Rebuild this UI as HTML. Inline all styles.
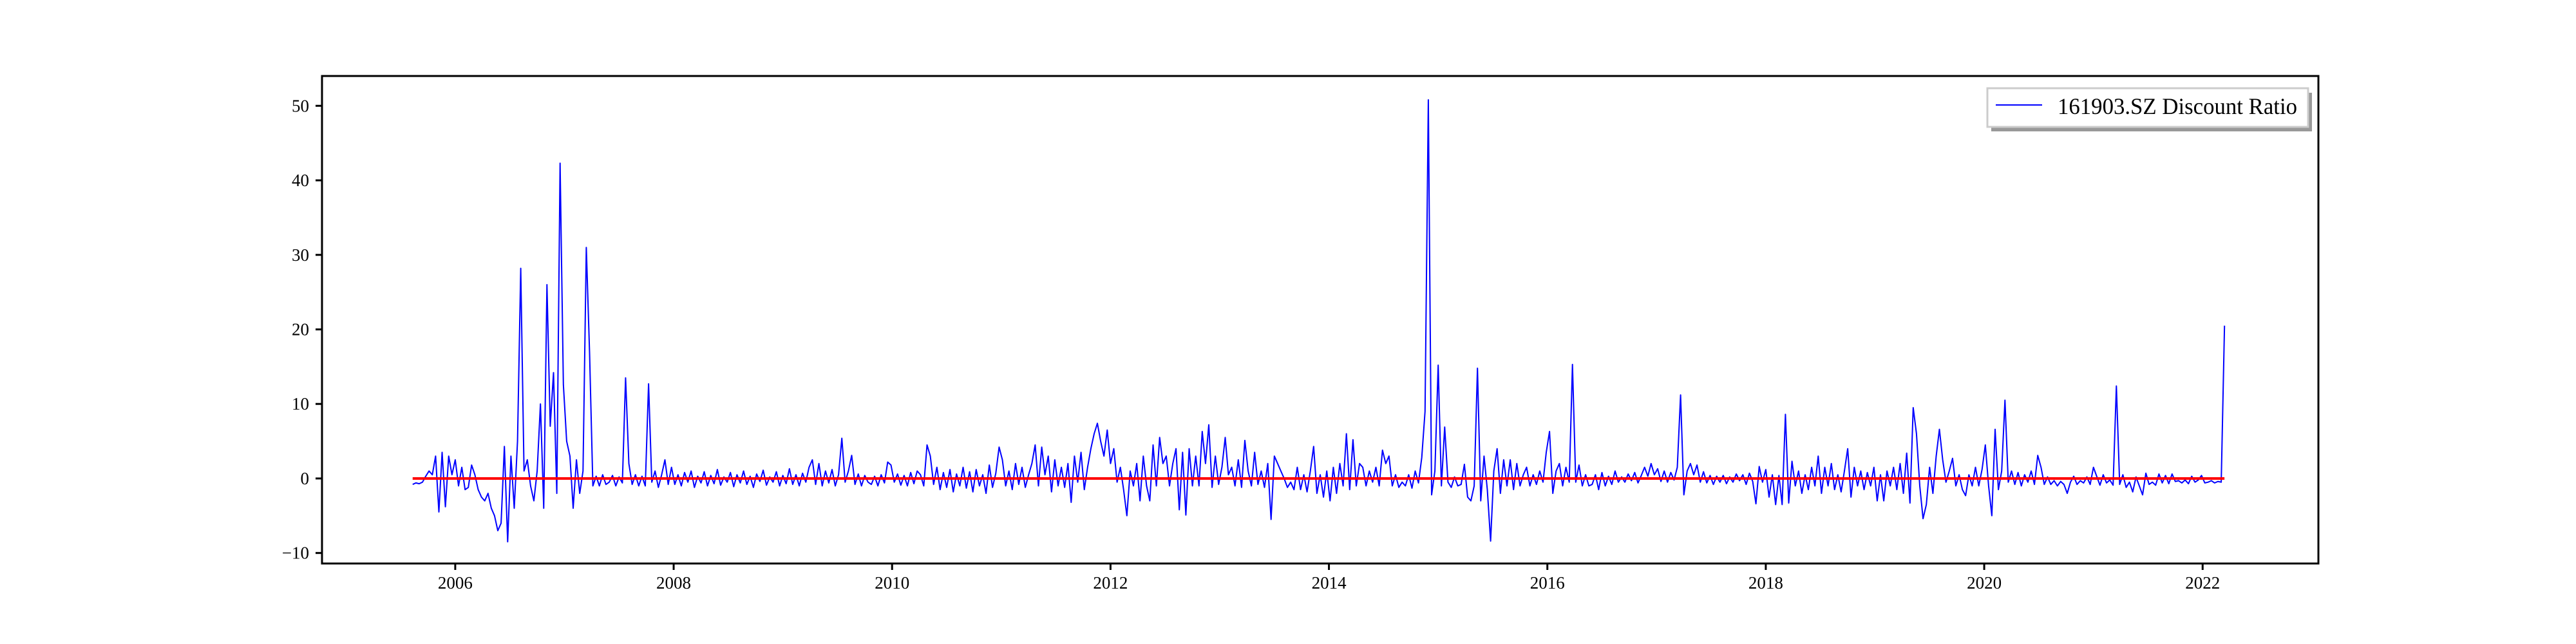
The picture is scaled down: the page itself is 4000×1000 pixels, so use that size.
<!DOCTYPE html>
<html><head><meta charset="utf-8"><style>
html,body{margin:0;padding:0;background:#fff;}
svg{display:block;font-family:"Liberation Serif","DejaVu Serif",serif;}
</style></head><body>
<svg id="chart" width="4000" height="1000" viewBox="0 0 4000 1000">
<rect x="0" y="0" width="4000" height="1000" fill="#fff"/>
<g id="plot"></g>
<g id="xaxis"></g>
<g id="yaxis"></g>
<rect x="500" y="118" width="3100" height="757" fill="none" stroke="#000" stroke-width="3"/>
<g>
<rect x="3092" y="144" width="498" height="60" fill="#999"/>
<rect x="3086" y="137" width="498" height="60" fill="#fff" stroke="#ccc" stroke-width="3"/>
<line x1="3099" y1="163" x2="3171" y2="163" stroke="#0000ff" stroke-width="2"/>
<text x="3195" y="177" font-size="36" textLength="372" lengthAdjust="spacingAndGlyphs" fill="#000">161903.SZ Discount Ratio</text>
</g>
</svg>
<script>
const startYear = 2005.61;
const stepYears = 0.03;
const values = [
-0.8,-0.6,-0.7,-0.5,0.3,1.0,0.5,3.0,-4.5,3.5,
-3.8,3.0,0.5,2.5,-1,1.5,-1.5,-1.2,1.8,0.5,
-1.5,-2.5,-3,-2,-4,-5,-7,-6,4.3,-8.5,
3,-4,5,28.2,1,2.5,-1,-3,1,10,
-4,26,7,14.2,-2,42.3,12.6,5,3,-4,
2.5,-2,1,31,16.8,-1,0.3,-1,0.5,-0.8,
-0.5,0.4,-1,0.2,-0.6,13.5,2,-0.8,0.5,-1,
0.3,-1,12.7,-0.5,1,-1.2,0.5,2.5,-0.8,1.5,
-0.8,0.5,-1,0.8,-0.5,1,-1.2,0.3,-0.6,0.9,
-1,0.4,-0.7,1.2,-0.9,0.2,-0.5,0.8,-1.1,0.5,
-0.6,1,-0.8,0.3,-1.2,0.6,-0.4,1.1,-0.9,0.2,
-0.5,0.9,-1,0.4,-0.7,1.3,-0.8,0.5,-1,0.7,
-0.5,1.5,2.5,-0.8,2,-1,1,-0.6,1.2,-1,
0.5,5.4,-0.5,1,3.1,-0.8,0.6,-1,0.4,-0.5,
-0.8,0.3,-1,0.5,-0.6,2.2,1.8,-0.5,0.6,-0.9,
0.4,-1,0.8,-0.7,1,0.5,-1,4.5,3,-0.8,
1.5,-1.5,0.8,-1.2,1.2,-1.8,0.6,-1,1.5,-1.3,
0.9,-1.8,1.2,-1,0.5,-2,1.8,-1.2,0.7,4.2,
2.5,-1,1,-1.5,2,-0.8,1.5,-1.2,0.5,2,
4.5,-1,4.2,0.5,3,-1.8,2.5,-1,1.5,-1.2,
2,-3.2,3,-0.5,3.5,-1.5,1.5,4,6,7.4,
5,3,6.5,2,4,-0.5,1.5,-1.5,-5,1,
-1,2,-3,3,-1,-3,4.5,-1,5.5,2,
3,-1,2,4,-4.2,3.5,-4.9,4,-1,3,
-1,6.3,2,7.2,-1.2,3,-0.8,1.5,5.5,0.5,
1.5,-1,2.5,-1.2,5.1,1,-1,3.5,-0.8,1,
-1.2,2,-5.5,3,2,1,0,-1.2,-0.5,-1.5,
1.5,-1.5,0.5,-1.8,1,4.3,-2,0.5,-2.5,1,
-3,1.5,-2,2,-1,6,-1.5,5.2,-1,2,
1.5,-1,1,-0.5,1.5,-1,3.8,2,3,-1,
0.5,-1.2,-0.5,-1,0.5,-1.3,1,-0.6,2.8,9,
50.8,-2.2,1,15.2,-1,6.9,-0.5,-1.2,0.2,-1,
-0.8,1.9,-2.5,-3,-1,14.8,-3,3,-1.5,-8.4,
1,4,-2,2.5,-1,2.5,-1.5,2,-1,0.5,
1.5,-1,0.5,-0.8,1,-0.5,3.5,6.3,-2,1,
2,-1,1.5,-0.5,15.3,-0.5,1.8,-1,0.5,-1,
-0.8,0.5,-1.5,0.8,-1,0.3,-0.8,1,-0.5,0.2,
-0.5,0.6,-0.3,0.8,-0.6,0.4,1.5,0.3,2,0.5,
1.3,-0.4,1,-0.5,0.8,-0.2,1.5,11.2,-2.2,1,
2,0.5,1.8,-0.5,0.9,-0.6,0.4,-0.8,0.3,-0.5,
0.4,-0.7,0.2,-0.5,0.6,-0.3,0.5,-0.8,0.7,-0.4,
-3.4,1.6,-0.5,1.2,-2.5,0.5,-3.5,0.4,-3.5,8.6,
-3.3,2.3,-1,1,-2,0.5,-1.5,1.5,-1,3,
-2,1.5,-1,2,-1.5,0.5,-1.8,1,4,-2.5,
1.5,-1,1,-1.5,0.8,-1,1.5,-3,0.5,-3,
1,-1,1.5,-1.5,2,-2,3.4,-3.3,9.5,6,
-1,-5.4,-3.5,1.5,-2,3,6.6,2.5,-0.5,1,
2.7,-1,0.5,-1.5,-2.3,0.5,-1,1.5,-1,1.2,
4.5,-1,-5,6.6,-1.5,1,10.5,-0.5,1,-0.8,
0.8,-1,0.5,-0.5,1,-0.8,3.1,1.5,-0.8,0.2,
-0.8,-0.3,-1,-0.4,-0.8,-2,-0.5,0.3,-0.8,-0.3,
-0.6,0.2,-0.8,1.5,0.3,-0.9,0.5,-0.6,-0.2,-0.9,
12.4,-0.8,0.5,-1.2,-0.5,-1.8,0.2,-1,-2.2,0.7,
-0.8,-0.5,-0.9,0.6,-0.6,0.4,-0.7,0.6,-0.4,-0.3,
-0.6,-0.2,-0.7,0.3,-0.5,-0.2,0.4,-0.6,-0.5,-0.3,
-0.6,-0.4,-0.5,20.5
];
const referenceLevel = [0];
const xTickYears = [2006,2008,2010,2012,2014,2016,2018,2020,2022];
const yTickValues = [-10,0,10,20,30,40,50];

const NS = "http://www.w3.org/2000/svg";
const X0 = 500, X1 = 3600, Y0 = 118, Y1 = 875;
const xMin = 2004.78, xMax = 2023.06, yMin = -11.41, yMax = 54.0;
function xScale(t){ return X0 + (t - xMin) / (xMax - xMin) * (X1 - X0); }
function yScale(v){ return Y1 - (v - yMin) / (yMax - yMin) * (Y1 - Y0); }
function mk(tag, attrs){ const e = document.createElementNS(NS, tag); for (const k in attrs) e.setAttribute(k, attrs[k]); return e; }

const plot = document.getElementById('plot');
let d = '';
values.forEach((v, i) => {
  const t = startYear + i * stepYears;
  d += (i ? 'L' : 'M') + xScale(t).toFixed(1) + ' ' + yScale(v).toFixed(1);
});
const line = mk('path', {d: d, fill: 'none', stroke: '#0000ff', 'stroke-width': 2, 'stroke-linejoin': 'round'});


plot.appendChild(line);

const tEnd = startYear + (values.length - 1) * stepYears;
const ref = mk('line', {x1: xScale(startYear), x2: xScale(tEnd), y1: yScale(referenceLevel[0]), y2: yScale(referenceLevel[0]), stroke: '#ff0000', 'stroke-width': 4});


plot.appendChild(ref);

const xa = document.getElementById('xaxis');
xTickYears.forEach(yr => {
  const x = xScale(yr);
  const tk = mk('line', {x1: x, x2: x, y1: Y1, y2: Y1 + 10, stroke: '#000', 'stroke-width': 3});
  
  
  xa.appendChild(tk);
  const lb = mk('text', {x: x, y: 914, 'font-size': 27, 'text-anchor': 'middle', fill: '#000'});
  lb.textContent = String(yr);
  
  
  xa.appendChild(lb);
});
const ya = document.getElementById('yaxis');
yTickValues.forEach(v => {
  const y = yScale(v);
  const tk = mk('line', {x1: X0 - 10, x2: X0, y1: y, y2: y, stroke: '#000', 'stroke-width': 3});
  
  
  ya.appendChild(tk);
  const lb = mk('text', {x: X0 - 20, y: y + 9, 'font-size': 27, 'text-anchor': 'end', fill: '#000'});
  lb.textContent = v < 0 ? '\u2212' + Math.abs(v) : String(v);
  
  
  ya.appendChild(lb);
});
</script>
</body></html>
